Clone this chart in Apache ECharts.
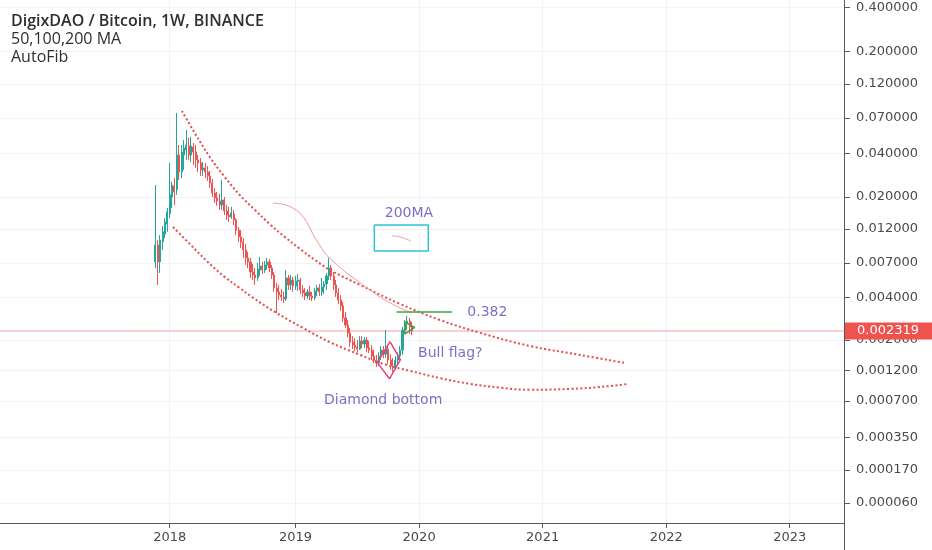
<!DOCTYPE html>
<html><head><meta charset="utf-8">
<script src="https://cdn.jsdelivr.net/npm/echarts@6/dist/echarts.min.js"></script>
<style>html,body{margin:0;padding:0;background:#fff}#c{width:932px;height:550px}</style>
</head><body><div id="c"></div>
<script>
// ---------- data ----------
const TITLE = 'DigixDAO / Bitcoin, 1W, BINANCE';
const SUBTITLE = ['50,100,200 MA', 'AutoFib'];
const FIRST_WEEK = '2017-11-20';
const open = [0.00711,0.00933,0.00711,0.00978,0.0111,0.0130,0.0153,0.0200,0.0238,0.0224,
0.0389,0.0297,0.0389,0.0421,0.0449,0.0389,0.0442,0.0408,0.0360,0.0343,
0.0307,0.0317,0.0297,0.0279,0.0250,0.0213,0.0197,0.0188,0.0176,0.0191,
0.0160,0.0150,0.0146,0.0153,0.0139,0.0118,0.0106,0.00978,0.00861,0.00758,
0.00711,0.00605,0.00577,0.00550,0.00625,0.00666,0.00625,0.00677,0.00711,0.00645,
0.00577,0.00468,0.00439,0.00418,0.00405,0.00392,0.00550,0.00491,0.00532,0.00483,
0.00524,0.00532,0.00453,0.00432,0.00411,0.00439,0.00411,0.00398,0.00446,0.00468,
0.00439,0.00475,0.00499,0.00568,0.00645,0.00568,0.00491,0.00432,0.00385,0.00349,
0.00288,0.00256,0.00225,0.00193,0.00184,0.00178,0.00172,0.00197,0.00187,0.00200,
0.00175,0.00169,0.00153,0.00143,0.00136,0.00153,0.00169,0.00158,0.00172,0.00143,
0.00129,0.00125,0.00143,0.00153,0.00169,0.00236,0.00265,0.00273,0.00248];
const close = [0.00933,0.00711,0.0101,0.0115,0.0135,0.0158,0.0207,0.0242,0.0217,0.0389,
0.0297,0.0408,0.0435,0.0456,0.0389,0.0449,0.0408,0.0360,0.0343,0.0307,
0.0317,0.0297,0.0279,0.0250,0.0213,0.0197,0.0188,0.0176,0.0191,0.0160,
0.0150,0.0146,0.0155,0.0139,0.0118,0.0106,0.00978,0.00861,0.00758,0.00711,
0.00605,0.00577,0.00550,0.00635,0.00666,0.00625,0.00677,0.00711,0.00645,0.00577,
0.00468,0.00439,0.00418,0.00405,0.00392,0.00550,0.00491,0.00532,0.00483,0.00524,
0.00532,0.00453,0.00432,0.00411,0.00439,0.00411,0.00398,0.00446,0.00468,0.00439,
0.00475,0.00499,0.00568,0.00645,0.00568,0.00491,0.00432,0.00385,0.00349,0.00288,
0.00256,0.00225,0.00193,0.00184,0.00178,0.00172,0.00197,0.00187,0.00200,0.00175,
0.00169,0.00153,0.00143,0.00136,0.00153,0.00169,0.00158,0.00172,0.00143,0.00129,
0.00125,0.00143,0.00153,0.00169,0.00236,0.00265,0.00273,0.00248,0.002319];
const low = [0.00645,0.00491,0.00596,0.00861,0.0104,0.0115,0.0143,0.0168,0.0176,0.0207,
0.0262,0.0270,0.0307,0.0360,0.0360,0.0348,0.0332,0.0317,0.0297,0.0279,
0.0279,0.0270,0.0258,0.0231,0.0200,0.0182,0.0174,0.0163,0.0163,0.0150,
0.0139,0.0135,0.0141,0.0128,0.0109,0.00978,0.00889,0.00758,0.00677,0.00645,
0.00550,0.00532,0.00491,0.00524,0.00568,0.00586,0.00596,0.00625,0.00605,0.00541,
0.00439,0.00312,0.00385,0.00379,0.00367,0.00379,0.00453,0.00453,0.00439,0.00453,
0.00446,0.00425,0.00405,0.00385,0.00392,0.00385,0.00379,0.00385,0.00411,0.00411,
0.00411,0.00425,0.00453,0.00532,0.00532,0.00453,0.00405,0.00361,0.00323,0.00269,
0.00244,0.00210,0.00178,0.00172,0.00166,0.00163,0.00169,0.00175,0.00175,0.00163,
0.00161,0.00143,0.00136,0.00127,0.00129,0.00143,0.00148,0.00148,0.00133,0.00121,
0.00117,0.00121,0.00133,0.00143,0.00156,0.00221,0.00236,0.00221,0.00217];
const high = [0.0242,0.0101,0.0109,0.0126,0.0143,0.0168,0.0343,0.0254,0.0270,0.0757,
0.0456,0.0456,0.0494,0.0578,0.0510,0.0518,0.0471,0.0456,0.0389,0.0371,
0.0348,0.0343,0.0327,0.0302,0.0266,0.0231,0.0217,0.0210,0.0262,0.0200,
0.0176,0.0171,0.0171,0.0163,0.0143,0.0124,0.0118,0.0104,0.00948,0.00834,
0.00758,0.00688,0.00645,0.00700,0.00770,0.00711,0.00722,0.00758,0.00746,0.00677,
0.00605,0.00507,0.00491,0.00460,0.00439,0.00625,0.00577,0.00577,0.00559,0.00568,
0.00586,0.00550,0.00491,0.00468,0.00460,0.00483,0.00439,0.00468,0.00491,0.00499,
0.00550,0.00524,0.00596,0.00758,0.00677,0.00605,0.00532,0.00468,0.00418,0.00373,
0.00317,0.00278,0.00244,0.00213,0.00206,0.00200,0.00213,0.00213,0.00210,0.00210,
0.00197,0.00184,0.00169,0.00156,0.00163,0.00181,0.00181,0.00236,0.00184,0.00158,
0.00148,0.00153,0.00163,0.00181,0.00248,0.00278,0.00297,0.00288,0.00269];
const LAST_PRICE = 0.002319;
const LAST_LABEL = '0.002319';

const yTickLabels = ['0.400000','0.200000','0.120000','0.070000','0.040000','0.020000','0.012000',
  '0.007000','0.004000','0.002000','0.001200','0.000700','0.000350','0.000170','0.000060'];
const yRange = [0.0000167, 0.4511];
const xTickDates = ['2018-01-01','2019-01-07','2020-01-06','2021-01-04','2022-01-03','2023-01-02'];
const xTickLabels = ['2018','2019','2020','2021','2022','2023'];
const xRange = ['2016-08-19','2023-06-11'];

const upperDates = ['2018-02-06','2018-03-16','2018-04-29','2018-06-12','2018-07-26','2018-09-09','2018-10-23',
  '2018-12-06','2019-01-20','2019-03-05','2019-04-18','2019-07-16','2019-11-11','2020-03-08','2020-07-04',
  '2020-11-28','2021-04-24','2021-09-04'];
const upperPrices = [0.0781,0.0551,0.0377,0.0275,0.0207,0.0163,0.0130,0.0106,0.00875,0.00734,0.00625,
  0.00491,0.00361,0.00278,0.00225,0.00181,0.00156,0.00136];
const lowerDates = ['2018-01-11','2018-03-01','2018-04-23','2018-06-12','2018-07-26','2018-08-31','2018-11-07',
  '2019-01-29','2019-04-18','2019-07-16','2019-09-27','2019-12-10','2020-03-08','2020-06-04','2020-08-31',
  '2020-11-28','2021-03-26','2021-06-22','2021-09-13'];
const lowerPrices = [0.0124,0.00948,0.00711,0.00559,0.00468,0.00405,0.00317,0.00244,0.00193,0.00156,
  0.00133,0.00119,0.00105,0.00095,0.00089,0.000856,0.00087,0.00090,0.00095];
const maDates = ['2018-11-01','2018-12-06','2018-12-30','2019-01-20','2019-02-09','2019-02-27','2019-03-20',
  '2019-04-09','2019-05-03','2019-06-01','2019-07-01','2019-08-14','2019-09-27','2019-11-11','2019-12-16'];
const maPrices = [0.0182,0.0177,0.0168,0.0155,0.0134,0.0111,0.0092,0.0079,0.0070,0.0061,0.0054,
  0.00453,0.00385,0.00338,0.00312];
const boxDates = ['2019-08-27','2020-02-02','2020-02-02','2019-08-27','2019-08-27'];
const boxPrices = [0.0128,0.0128,0.00847,0.00847,0.0128];
const boxMaDates = ['2019-10-18','2019-11-16','2019-12-13'];
const boxMaPrices = [0.0108,0.0105,0.0099];
const fibDates = ['2019-11-01','2020-04-12'];
const fibPrices = [0.00317,0.00317];
const diamondDates = ['2019-10-12','2019-09-05','2019-10-11','2019-11-12','2019-10-12'];
const diamondPrices = [0.00195,0.00137,0.00104,0.00144,0.00195];
const flagDates = ['2019-11-25','2019-12-24','2019-11-25','2019-11-25'];
const flagPrices = [0.00269,0.00246,0.00221,0.00269];
const centerNotes = ['200MA','Diamond bottom'];
const centerNoteDates = ['2019-12-07','2019-09-22'];
const centerNotePrices = [0.0155,0.00071];
const leftNotes = ['0.382','Bull flag?'];
const leftNoteDates = ['2020-05-27','2020-01-03'];
const leftNotePrices = [0.00317,0.00161];

// ---------- helpers ----------
const LOG_OFFSET = 0.0001;               // TradingView-style log scale
const toAxis = p => Math.log10(p + LOG_OFFSET);
const t = d => Date.parse(d);
const pts = (ds, ps) => ds.map((d, i) => [t(d), toAxis(ps[i])]);
const DAY = 86400000;
const weekTimes = open.map((_, i) => t(FIRST_WEEK) + i * 7 * DAY);
const candles = open.map((o, i) => [weekTimes[i], toAxis(o), toAxis(close[i]), toAxis(low[i]), toAxis(high[i])]);
const yTickValues = yTickLabels.map(s => toAxis(parseFloat(s)));
const xTickValues = xTickDates.map(t);
const nearest = (arr, v) => { let b = 0, d = Infinity; arr.forEach((a, i) => { const e = Math.abs(a - v); if (e < d) { d = e; b = i; } }); return b; };

const AXIS_FONT = 'DejaVu Sans';
const NOTE_COLOR = '#5b4ab8';
const DOT = { color: '#e8494a', width: 2, type: [2, 2.4] };

const chart = echarts.init(document.getElementById('c'), null, { renderer: 'canvas' });
chart.setOption({
  animation: false,
  backgroundColor: '#ffffff',
  title: {
    left: 6, top: 7, itemGap: 0,
    text: TITLE,
    subtext: SUBTITLE.join('\n'),
    textStyle: { fontFamily: 'Open Sans', fontWeight: 600, fontSize: 16, color: '#2f2f2f', lineHeight: 18 },
    subtextStyle: { fontFamily: 'Open Sans', fontWeight: 400, fontSize: 16, color: '#2f2f2f', lineHeight: 18 }
  },
  grid: { left: 0, right: 88, top: 0, bottom: 27, containLabel: false },
  xAxis: {
    type: 'value', min: t(xRange[0]), max: t(xRange[1]),
    axisLine: { show: true, lineStyle: { color: '#555a60', width: 1 } },
    axisTick: { show: true, length: 5, customValues: xTickValues, lineStyle: { color: '#555a60' } },
    axisLabel: { customValues: xTickValues, margin: 8, fontFamily: AXIS_FONT, fontSize: 13, color: '#4a4a4a',
      formatter: v => xTickLabels[nearest(xTickValues, v)] },
    splitLine: { show: true, lineStyle: { color: '#f1f3f7', width: 1 } }
  },
  yAxis: {
    type: 'value', position: 'right', min: toAxis(yRange[0]), max: toAxis(yRange[1]),
    axisLine: { show: true, lineStyle: { color: '#555a60', width: 1 } },
    axisTick: { show: true, length: 6, customValues: yTickValues, lineStyle: { color: '#555a60' } },
    axisLabel: { customValues: yTickValues, margin: 12, fontFamily: AXIS_FONT, fontSize: 13, color: '#4a4a4a',
      formatter: v => yTickLabels[nearest(yTickValues, v)] },
    splitLine: { show: true, lineStyle: { color: '#f1f3f7', width: 1 } }
  },
  graphic: [{ type: 'line', shape: { x1: 844.5, y1: 523, x2: 844.5, y2: 550 }, style: { stroke: '#555a60', lineWidth: 1 } }],
  series: [
    {
      type: 'line', showSymbol: false, z: 2, silent: true,
      data: xRange.map(d => [t(d), toAxis(LAST_PRICE)]),
      lineStyle: { color: '#f5a3a3', width: 1, type: 'solid' },
      itemStyle: { color: '#f5a3a3' },
      endLabel: { show: true, distance: 1, formatter: LAST_LABEL, color: '#ffffff',
        backgroundColor: '#ef5350', fontFamily: AXIS_FONT, fontSize: 13, padding: [2, 14, 2, 12] }
    },
    { type: 'line', data: pts(upperDates, upperPrices), smooth: 0.4, showSymbol: false, lineStyle: DOT, z: 3 },
    { type: 'line', data: pts(lowerDates, lowerPrices), smooth: 0.4, showSymbol: false, lineStyle: DOT, z: 3 },
    { type: 'line', data: pts(maDates, maPrices), smooth: 0.3, showSymbol: false, lineStyle: { color: '#f19a9a', width: 1 }, z: 3 },
    {
      type: 'candlestick', data: candles,
      dimensions: ['time', 'open', 'close', 'lowest', 'highest'],
      encode: { x: 0, y: [1, 2, 3, 4] },
      barWidth: 1.6, z: 4,
      itemStyle: { color: '#26a69a', color0: '#ef5350', borderColor: '#26a69a', borderColor0: '#ef5350', borderWidth: 1 }
    },
    { type: 'line', data: pts(boxDates, boxPrices), showSymbol: false, lineStyle: { color: '#2ec4d6', width: 1.5 }, z: 5 },
    { type: 'line', data: pts(boxMaDates, boxMaPrices), smooth: true, showSymbol: false, lineStyle: { color: '#e9a3a3', width: 1 }, z: 5 },
    { type: 'line', data: pts(fibDates, fibPrices), showSymbol: false, lineStyle: { color: '#43a047', width: 1.5 }, z: 5 },
    { type: 'line', data: pts(diamondDates, diamondPrices), showSymbol: false, lineStyle: { color: '#e8407a', width: 1.5 }, z: 5 },
    { type: 'line', data: pts(flagDates, flagPrices), showSymbol: false, lineStyle: { color: '#43a047', width: 1.5 }, z: 5 },
    {
      type: 'scatter', symbolSize: 0, z: 6, silent: true,
      data: centerNotes.map((n, i) => ({ name: n, value: [t(centerNoteDates[i]), toAxis(centerNotePrices[i])] })),
      label: { show: true, position: 'inside', formatter: '{b}', color: NOTE_COLOR, fontFamily: AXIS_FONT, fontSize: 14 }
    },
    {
      type: 'scatter', symbolSize: 0, z: 6, silent: true,
      data: leftNotes.map((n, i) => ({ name: n, value: [t(leftNoteDates[i]), toAxis(leftNotePrices[i])] })),
      label: { show: true, position: 'right', distance: 0, formatter: '{b}', color: NOTE_COLOR, fontFamily: AXIS_FONT, fontSize: 14 }
    }
  ]
});
</script></body></html>
